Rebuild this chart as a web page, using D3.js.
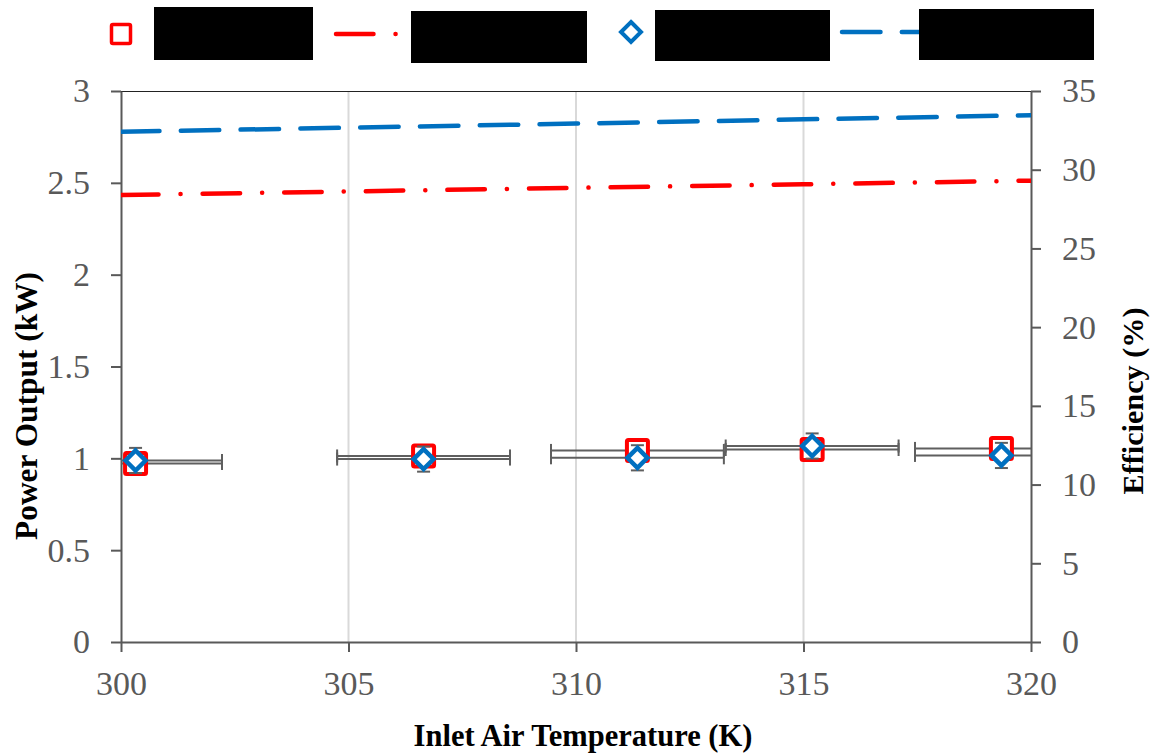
<!DOCTYPE html>
<html>
<head>
<meta charset="utf-8">
<script src="https://cdn.jsdelivr.net/npm/d3@7"></script>
<style>
  html, body { margin: 0; padding: 0; background: #fff; }
  svg { display: block; }
</style>
</head>
<body>
<svg id="chart" width="1158" height="755"></svg>
<script>
// ---------- data ----------
const xTicks = [300, 305, 310, 315, 320];
const xTickLabels = ["300", "305", "310", "315", "320"];
const yLeftTicks = [0, 0.5, 1, 1.5, 2, 2.5, 3];
const yLeftTickLabels = ["0", "0.5", "1", "1.5", "2", "2.5", "3"];
const yRightTicks = [0, 5, 10, 15, 20, 25, 30, 35];
const yRightTickLabels = ["0", "5", "10", "15", "20", "25", "30", "35"];

// measured points
const measTemp = [300.32, 306.65, 311.35, 315.19, 319.35];
const measPower = [0.972, 1.013, 1.043, 1.048, 1.054];       // kW (left axis)
const measEff = [11.53, 11.62, 11.70, 12.45, 11.85];          // % (right axis)
const tempErr = [1.9, 1.9, 1.9, 1.9, 1.9];                    // K
const effErr = [0.8, 0.8, 0.8, 0.8, 0.8];                     // %

// model lines
const modelTemp = [300, 305, 310, 315, 320];
const modelPower = [2.434, 2.453, 2.473, 2.492, 2.512];       // kW
const modelEff = [32.41, 32.67, 32.93, 33.20, 33.46];         // %

const xTitle = "Inlet Air Temperature (K)";
const yLeftTitle = "Power Output (kW)";
const yRightTitle = "Efficiency (%)";

// ---------- setup ----------
const svg = d3.select("#chart");
const FONT = "'Liberation Serif', 'Times New Roman', serif";
const RED = "#FF0000", BLUE = "#0070C0", AXIS = "#595959", ERR = "#5f5f5f";

const x = d3.scaleLinear().domain([300, 320]).range([121, 1031]);
const yL = d3.scaleLinear().domain([0, 3]).range([642, 91]);
const yR = d3.scaleLinear().domain([0, 35]).range([642, 91]);

// fit font size so that a sample string has the given width
function fitSize(str, width, weight) {
  const t = svg.append("text").attr("font-family", FONT).attr("font-size", 100)
    .attr("font-weight", weight || "normal").text(str);
  const w = t.node().getComputedTextLength();
  t.remove();
  return 100 * width / w;
}
const tickFS = fitSize("300", 51);

// clip
svg.append("defs").append("clipPath").attr("id", "plotclip")
  .append("rect").attr("x", 121).attr("y", 91).attr("width", 910).attr("height", 551);

// gridlines
svg.append("g").selectAll("line").data(xTicks.filter(d => d > 300 && d < 320)).join("line")
  .attr("x1", d => x(d)).attr("x2", d => x(d)).attr("y1", 91).attr("y2", 642)
  .attr("stroke", "#d9d9d9").attr("stroke-width", 2);

// top border
svg.append("line").attr("x1", 121).attr("x2", 1031).attr("y1", 91.5).attr("y2", 91.5)
  .attr("stroke", "#222").attr("stroke-width", 1);

// axes
function styleAxis(g) {
  g.select(".domain").attr("stroke", AXIS).attr("stroke-width", 2);
  g.selectAll(".tick line").attr("stroke", AXIS).attr("stroke-width", 2);
  g.selectAll(".tick text").attr("fill", AXIS).attr("font-family", FONT).attr("font-size", tickFS);
}
svg.append("g").attr("transform", "translate(0,642)")
  .call(d3.axisBottom(x).tickValues(xTicks).tickFormat((d, i) => xTickLabels[i]).tickSize(10).tickSizeOuter(0).tickPadding(19))
  .call(styleAxis);
svg.append("g").attr("transform", "translate(121,0)")
  .call(d3.axisLeft(yL).tickValues(yLeftTicks).tickFormat((d, i) => yLeftTickLabels[i]).tickSize(10).tickSizeOuter(0).tickPadding(21))
  .call(styleAxis);
svg.append("g").attr("transform", "translate(1031,0)")
  .call(d3.axisRight(yR).tickValues(yRightTicks).tickFormat((d, i) => yRightTickLabels[i]).tickSize(10).tickSizeOuter(0).tickPadding(21))
  .call(styleAxis);

// model lines
const plot = svg.append("g").attr("clip-path", "url(#plotclip)");
const lineP = d3.line().x((d, i) => x(modelTemp[i])).y(d => yL(d));
const lineE = d3.line().x((d, i) => x(modelTemp[i])).y(d => yR(d));
plot.append("path").attr("d", lineP(modelPower)).attr("fill", "none")
  .attr("stroke", RED).attr("stroke-width", 4.5).attr("stroke-linecap", "round")
  .attr("stroke-dasharray", "37.5,22,0.1,22");
plot.append("path").attr("d", lineE(modelEff)).attr("fill", "none")
  .attr("stroke", BLUE).attr("stroke-width", 4.5).attr("stroke-linecap", "round")
  .attr("stroke-dasharray", "38.5,21.3");

// error bars helper
function hErr(g, xs, ys) {
  const cap = 6.5;
  xs.forEach((t, i) => {
    const yy = ys[i], x1 = x(t - tempErr[i]), x2 = x(t + tempErr[i]);
    g.append("line").attr("x1", x1).attr("x2", x2).attr("y1", yy).attr("y2", yy);
    g.append("line").attr("x1", x1).attr("x2", x1).attr("y1", yy - cap).attr("y2", yy + cap);
    g.append("line").attr("x1", x2).attr("x2", x2).attr("y1", yy - cap).attr("y2", yy + cap);
  });
}
function vErr(g, xs, vals, errs) {
  const cap = 6.5;
  xs.forEach((t, i) => {
    const xx = x(t), y1 = yR(vals[i] + errs[i]), y2 = yR(vals[i] - errs[i]);
    g.append("line").attr("x1", xx).attr("x2", xx).attr("y1", y1).attr("y2", y2);
    g.append("line").attr("x1", xx - cap).attr("x2", xx + cap).attr("y1", y1).attr("y2", y1);
    g.append("line").attr("x1", xx - cap).attr("x2", xx + cap).attr("y1", y2).attr("y2", y2);
  });
}

// red series: error bars then markers
const gErrR = plot.append("g").attr("stroke", ERR).attr("stroke-width", 2);
hErr(gErrR, measTemp, measPower.map(d => yL(d)));
const sq = 21;
svg.append("g").selectAll("rect").data(measPower).join("rect")
  .attr("x", (d, i) => x(measTemp[i]) - sq / 2).attr("y", d => yL(d) - sq / 2)
  .attr("width", sq).attr("height", sq).attr("rx", 1.5)
  .attr("fill", "#fff").attr("stroke", RED).attr("stroke-width", 4);

// blue series: error bars then markers
const gErrB = plot.append("g").attr("stroke", ERR).attr("stroke-width", 2);
hErr(gErrB, measTemp, measEff.map(d => yR(d)));
const gErrB2 = svg.append("g").attr("stroke", ERR).attr("stroke-width", 2);
vErr(gErrB2, measTemp, measEff, effErr);
const dm = 10;
svg.append("g").selectAll("path").data(measEff).join("path")
  .attr("d", (d, i) => {
    const cx = x(measTemp[i]), cy = yR(d);
    return `M${cx},${cy - dm}L${cx + dm},${cy}L${cx},${cy + dm}L${cx - dm},${cy}Z`;
  })
  .attr("fill", "#fff").attr("stroke", BLUE).attr("stroke-width", 4.5).attr("stroke-linejoin", "miter");

// titles
const xtFS = fitSize(xTitle, 339, "bold");
svg.append("text").attr("x", 583).attr("y", 746).attr("text-anchor", "middle")
  .attr("font-family", FONT).attr("font-weight", "bold").attr("font-size", xtFS)
  .attr("fill", "#000").text(xTitle);
const ylFS = fitSize(yLeftTitle, 268, "bold");
svg.append("text").attr("transform", "translate(37,406) rotate(-90)").attr("text-anchor", "middle")
  .attr("font-family", FONT).attr("font-weight", "bold").attr("font-size", ylFS)
  .attr("fill", "#000").text(yLeftTitle);
const yrFS = fitSize(yRightTitle, 187, "bold");
svg.append("text").attr("transform", "translate(1143,401) rotate(-90)").attr("text-anchor", "middle")
  .attr("font-family", FONT).attr("font-weight", "bold").attr("font-size", yrFS)
  .attr("fill", "#000").text(yRightTitle);

// legend
const leg = svg.append("g");
leg.append("rect").attr("x", 121 - 9.5).attr("y", 34 - 9.5).attr("width", 19).attr("height", 19).attr("rx", 1.5)
  .attr("fill", "#fff").attr("stroke", RED).attr("stroke-width", 3.5);
leg.append("line").attr("x1", 336).attr("x2", 430).attr("y1", 34).attr("y2", 34)
  .attr("stroke", RED).attr("stroke-width", 4.5).attr("stroke-linecap", "round")
  .attr("stroke-dasharray", "37.5,22,0.1,22");
leg.append("path").attr("d", "M631,22L641,32L631,42L621,32Z")
  .attr("fill", "#fff").attr("stroke", BLUE).attr("stroke-width", 4);
leg.append("line").attr("x1", 842).attr("x2", 930).attr("y1", 32).attr("y2", 32)
  .attr("stroke", BLUE).attr("stroke-width", 4.5).attr("stroke-linecap", "round")
  .attr("stroke-dasharray", "38.5,21.3");
// redaction boxes over legend labels
const boxes = [[154, 7, 159, 53], [411, 11, 176, 52], [655, 10, 175, 51], [919, 9, 175, 51]];
leg.selectAll("rect.box").data(boxes).join("rect").attr("class", "box")
  .attr("x", d => d[0]).attr("y", d => d[1]).attr("width", d => d[2]).attr("height", d => d[3])
  .attr("fill", "#000");
</script>
</body>
</html>
